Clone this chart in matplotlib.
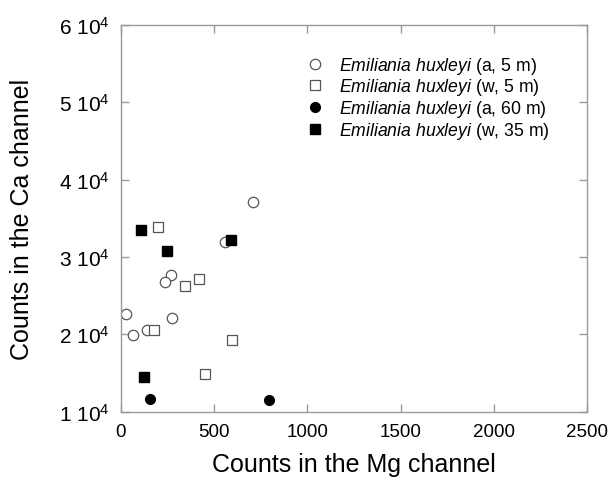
import numpy as np
import matplotlib
matplotlib.use("Agg")
import matplotlib.pyplot as plt

plt.rcParams['font.family'] = ['Liberation Sans', 'DejaVu Sans']
plt.rcParams['mathtext.fontset'] = 'custom'
plt.rcParams['mathtext.rm'] = 'Liberation Sans'
plt.rcParams['mathtext.it'] = 'Liberation Sans:italic'

# E. huxleyi (a, 5 m) - open circles
mg_a5 = [710, 560, 270, 234, 25, 275, 139, 66]
ca_a5 = [3.71e4, 3.19e4, 2.77e4, 2.67e4, 2.26e4, 2.21e4, 2.05e4, 1.99e4]

# E. huxleyi (w, 5 m) - open squares
mg_w5 = [197, 420, 345, 179, 594, 452]
ca_w5 = [3.39e4, 2.72e4, 2.62e4, 2.05e4, 1.93e4, 1.49e4]

# E. huxleyi (a, 60 m) - filled circles
mg_a60 = [155, 795]
ca_a60 = [1.16e4, 1.15e4]

# E. huxleyi (w, 35 m) - filled squares
mg_w35 = [107, 247, 592, 122]
ca_w35 = [3.35e4, 3.08e4, 3.22e4, 1.45e4]

x_ticks = [0, 500, 1000, 1500, 2000, 2500]
y_ticks = [1e4, 2e4, 3e4, 4e4, 5e4, 6e4]
y_labels = [f"{int(v / 1e4)} 10$^{{4}}$" for v in y_ticks]

fig = plt.figure(figsize=(6.14, 4.81), dpi=100)
ax = fig.add_axes([0.197, 0.1424, 0.759, 0.8036])

ax.plot(mg_a5, ca_a5, linestyle='none', marker='o', ms=7.5, mfc='white', mec='#555555', mew=0.9,
        label=r'$\it{Emiliania\ huxleyi}$ (a, 5 m)')
ax.plot(mg_w5, ca_w5, linestyle='none', marker='s', ms=7.5, mfc='white', mec='#555555', mew=0.9,
        label=r'$\it{Emiliania\ huxleyi}$ (w, 5 m)')
ax.plot(mg_a60, ca_a60, linestyle='none', marker='o', ms=7, color='black',
        label=r'$\it{Emiliania\ huxleyi}$ (a, 60 m)')
ax.plot(mg_w35, ca_w35, linestyle='none', marker='s', ms=7.5, color='black',
        label=r'$\it{Emiliania\ huxleyi}$ (w, 35 m)')

ax.set_xlim(0, 2500)
ax.set_ylim(1e4, 6e4)
ax.set_xticks(x_ticks)
ax.set_xticklabels([str(v) for v in x_ticks])
ax.set_yticks(y_ticks)
ax.set_yticklabels(y_labels)

for s in ax.spines.values():
    s.set_color('#9a9a9a')
    s.set_linewidth(1.0)
ax.tick_params(direction='in', length=5.5, width=1.0, color='#9a9a9a',
               top=True, right=True)
ax.tick_params(axis='x', labelsize=13.5, pad=8)
ax.tick_params(axis='y', labelsize=15, pad=8)

ax.set_xlabel("Counts in the Mg channel", fontsize=18, labelpad=9)
ax.set_ylabel("Counts in the Ca channel", fontsize=18, labelpad=18)

ax.legend(loc='upper left', bbox_to_anchor=(0.37, 0.955), frameon=False, fontsize=12.7,
          handlelength=1.0, handletextpad=0.9, labelspacing=0.04, borderpad=0.2)

plt.savefig("out.png", dpi=100)
